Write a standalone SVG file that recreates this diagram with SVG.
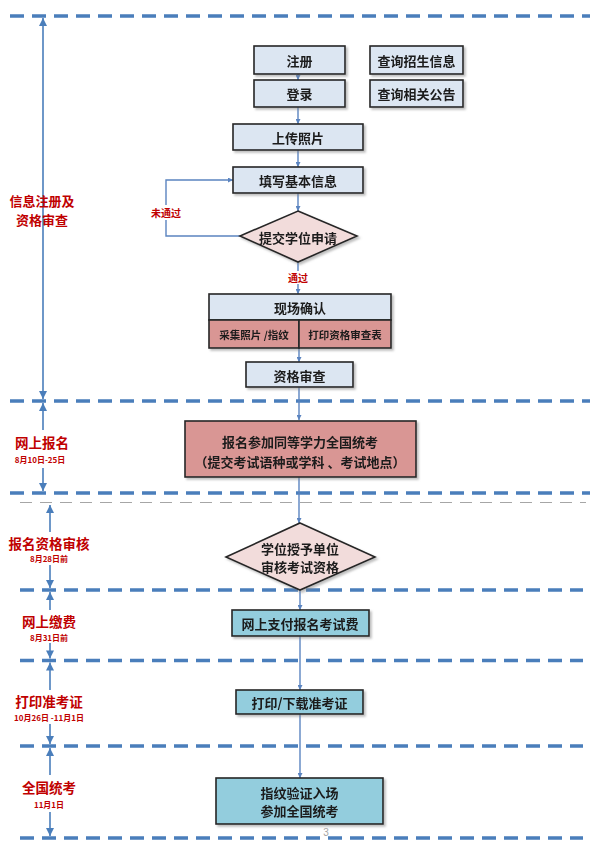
<svg xmlns="http://www.w3.org/2000/svg" width="594" height="849" viewBox="0 0 594 849">
<style>
.dash{stroke:#4a7ebb;stroke-width:3.5;stroke-dasharray:14 8;fill:none}
.gdash{stroke:#a6a6a6;stroke-width:1.2;stroke-dasharray:12 8;fill:none}
.vl{stroke:#4a7ebb;stroke-width:1.6;fill:none}
.cn{stroke:#5b84c0;stroke-width:1.4;fill:none}
.bx{fill:#dce6f2;stroke:#262626;stroke-width:1.6}
.rb{fill:#d99694;stroke:#262626;stroke-width:1.6}
.bb{fill:#93cddd;stroke:#262626;stroke-width:1.6}
.dm{fill:#f2dcdb;stroke:#262626;stroke-width:1.6}
.t{font-family:"Noto Sans CJK SC",sans-serif;font-size:13px;font-weight:700;fill:#1a1a1a;text-anchor:middle;dominant-baseline:central}
.ts{font-family:"Noto Sans CJK SC",sans-serif;font-size:10.5px;font-weight:700;fill:#1a1a1a;text-anchor:middle;dominant-baseline:central}
.lab{font-family:"Noto Sans CJK SC",sans-serif;font-size:13.5px;font-weight:700;fill:#c00000;text-anchor:middle;dominant-baseline:central}
.lab2{font-family:"Noto Sans CJK SC",sans-serif;font-size:13px;font-weight:700;fill:#c00000;text-anchor:middle;dominant-baseline:central}
.dt{font-family:"Noto Sans CJK SC",sans-serif;font-size:8px;font-weight:700;fill:#c00000;text-anchor:middle;dominant-baseline:central}
.rl{font-family:"Noto Sans CJK SC",sans-serif;font-size:10px;font-weight:700;fill:#c00000;text-anchor:middle;dominant-baseline:central}
</style>
<defs>
<marker id="ah" viewBox="0 0 10 10" refX="10" refY="5" markerWidth="5" markerHeight="5" orient="auto-start-reverse" markerUnits="userSpaceOnUse">
<path d="M0,0 L10,5 L0,10 z" fill="#5b84c0"/>
</marker>
<marker id="ab" viewBox="0 0 10 10" refX="10" refY="5" markerWidth="9" markerHeight="8" orient="auto-start-reverse" markerUnits="userSpaceOnUse">
<path d="M0,0 L10,5 L0,10 z" fill="#4a7ebb"/>
</marker>
<filter id="sh" x="-10%" y="-10%" width="130%" height="140%">
<feDropShadow dx="2" dy="2" stdDeviation="1" flood-color="#7f7f7f" flood-opacity="0.5"/>
</filter>
</defs>

<g id="phase-lines">
<line class="dash" x1="10" y1="16" x2="590" y2="16"/>
<line class="dash" x1="10" y1="401" x2="590" y2="401"/>
<line class="dash" x1="10" y1="493" x2="590" y2="493"/>
<line class="gdash" x1="20" y1="502.5" x2="586" y2="502.5"/>
<line class="dash" x1="20" y1="590" x2="583" y2="590"/>
<line class="dash" x1="20" y1="660.5" x2="583" y2="660.5"/>
<line class="dash" x1="20" y1="746" x2="583" y2="746"/>
<line class="dash" x1="20" y1="838" x2="583" y2="838"/>
</g>

<g id="phase-arrows">
<line class="vl" x1="43" y1="18" x2="43" y2="399" marker-start="url(#ab)" marker-end="url(#ab)"/>
<line class="vl" x1="43" y1="403" x2="43" y2="430" marker-start="url(#ab)"/>
<line class="vl" x1="43" y1="468" x2="43" y2="491" marker-end="url(#ab)"/>
<line class="vl" x1="50" y1="505" x2="50" y2="532" marker-start="url(#ab)"/>
<line class="vl" x1="50" y1="565" x2="50" y2="588" marker-end="url(#ab)"/>
<line class="vl" x1="50" y1="592" x2="50" y2="610" marker-start="url(#ab)"/>
<line class="vl" x1="50" y1="643" x2="50" y2="658.5" marker-end="url(#ab)"/>
<line class="vl" x1="50" y1="662.5" x2="50" y2="690" marker-start="url(#ab)"/>
<line class="vl" x1="50" y1="724" x2="50" y2="744" marker-end="url(#ab)"/>
<line class="vl" x1="50" y1="748" x2="50" y2="775" marker-start="url(#ab)"/>
<line class="vl" x1="50" y1="812" x2="50" y2="836" marker-end="url(#ab)"/>
</g>

<g id="phase-labels">
<text class="lab2" x="42" y="200">信息注册及</text>
<text class="lab2" x="42" y="219">资格审查</text>
<text class="lab" x="42" y="442">网上报名</text>
<text class="dt" x="40" y="459">8月10日-25日</text>
<text class="lab" x="49" y="543">报名资格审核</text>
<text class="dt" x="49" y="558">8月28日前</text>
<text class="lab" x="49" y="621">网上缴费</text>
<text class="dt" x="49" y="637">8月31日前</text>
<text class="lab" x="49" y="701">打印准考证</text>
<text class="dt" x="49" y="717">10月26日 -11月1日</text>
<text class="lab" x="49" y="787">全国统考</text>
<text class="dt" x="49" y="804">11月1日</text>
</g>

<g id="connectors">
<line class="cn" x1="298" y1="65" x2="298" y2="80" marker-end="url(#ah)"/>
<line class="cn" x1="298" y1="104" x2="298" y2="124" marker-end="url(#ah)"/>
<line class="cn" x1="298" y1="150" x2="298" y2="167" marker-end="url(#ah)"/>
<line class="cn" x1="298" y1="193" x2="298" y2="211" marker-end="url(#ah)"/>
<polyline class="cn" points="241,236 166,236 166,180 233,180" marker-end="url(#ah)"/>
<line class="cn" x1="298" y1="262" x2="298" y2="294" marker-end="url(#ah)"/>
<line class="cn" x1="299" y1="348" x2="299" y2="362" marker-end="url(#ah)"/>
<line class="cn" x1="299" y1="387" x2="299" y2="420" marker-end="url(#ah)"/>
<line class="cn" x1="299" y1="477" x2="299" y2="523" marker-end="url(#ah)"/>
<line class="cn" x1="300" y1="590" x2="300" y2="610" marker-end="url(#ah)"/>
<line class="cn" x1="300" y1="636" x2="300" y2="690" marker-end="url(#ah)"/>
<line class="cn" x1="300" y1="714" x2="300" y2="778" marker-end="url(#ah)"/>
<rect x="147" y="205" width="38" height="15" fill="#ffffff"/>
<text class="rl" x="166" y="212">未通过</text>
<rect x="286" y="271" width="24" height="13" fill="#ffffff"/>
<text class="rl" x="298" y="277">通过</text>
</g>

<g id="n-register" filter="url(#sh)"><rect class="bx" x="254" y="46" width="91" height="28"/><text class="t" x="299.5" y="60">注册</text></g>
<g id="n-query-info" filter="url(#sh)"><rect class="bx" x="370" y="46" width="93" height="28"/><text class="t" x="416.5" y="60">查询招生信息</text></g>
<g id="n-login" filter="url(#sh)"><rect class="bx" x="254" y="80" width="91" height="27"/><text class="t" x="299.5" y="93.5">登录</text></g>
<g id="n-query-notice" filter="url(#sh)"><rect class="bx" x="370" y="80" width="93" height="27"/><text class="t" x="416.5" y="93.5">查询相关公告</text></g>
<g id="n-upload" filter="url(#sh)"><rect class="bx" x="233" y="124" width="130" height="26"/><text class="t" x="298" y="137">上传照片</text></g>
<g id="n-fill" filter="url(#sh)"><rect class="bx" x="233" y="167" width="130" height="26"/><text class="t" x="298" y="180">填写基本信息</text></g>
<g id="n-submit" filter="url(#sh)"><polygon class="dm" points="298,211 357,236 298,262 240,236"/><text class="t" x="298" y="237">提交学位申请</text></g>
<g id="n-confirm" filter="url(#sh)">
<rect class="bx" x="209" y="294" width="182" height="26"/>
<text class="t" x="300" y="307">现场确认</text>
<rect class="rb" x="209" y="320" width="90" height="28"/>
<rect class="rb" x="299" y="320" width="92" height="28"/>
<text class="ts" x="254" y="334">采集照片 /指纹</text>
<text class="ts" x="345" y="334">打印资格审查表</text>
</g>
<g id="n-review" filter="url(#sh)"><rect class="bx" x="246" y="362" width="107" height="25"/><text class="t" x="299.5" y="375">资格审查</text></g>
<g id="n-apply" filter="url(#sh)"><rect class="rb" x="185" y="421" width="231" height="56"/><text class="t" x="300" y="441">报名参加同等学力全国统考</text><text class="t" x="300" y="461">（提交考试语种或学科 、考试地点）</text></g>
<g id="n-audit" filter="url(#sh)"><polygon class="dm" points="300,523 375,557 300,590 226,557"/><text class="t" x="300" y="548">学位授予单位</text><text class="t" x="300" y="566">审核考试资格</text></g>
<g id="n-pay" filter="url(#sh)"><rect class="bb" x="232" y="610" width="137" height="26"/><text class="t" x="300" y="623">网上支付报名考试费</text></g>
<g id="n-print" filter="url(#sh)"><rect class="bb" x="236" y="690" width="127" height="24"/><text class="t" x="299.5" y="702">打印/下载准考证</text></g>
<g id="n-exam" filter="url(#sh)"><rect class="bb" x="216" y="778" width="167" height="46"/><text class="t" x="299.5" y="792">指纹验证入场</text><text class="t" x="299.5" y="810">参加全国统考</text></g>

<text x="326" y="836" font-family="Liberation Sans, sans-serif" font-size="10" fill="#a6a6a6" text-anchor="middle">3</text>
</svg>
